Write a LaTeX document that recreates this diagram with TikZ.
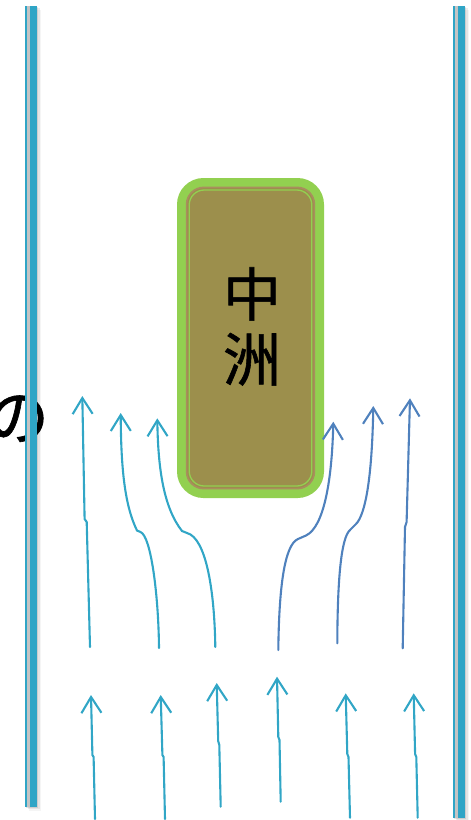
\documentclass[tikz,border=0pt]{standalone}
\usepackage{fontspec}
\newfontfamily\cjk{Noto Sans CJK JP}
\newfontfamily\cjkb[FakeBold=1]{Noto Sans CJK JP}
\usetikzlibrary{arrows.meta}
\definecolor{wallblue}{HTML}{2FA5C6}
\definecolor{wallgray}{HTML}{C4C4C4}
\definecolor{flowteal}{HTML}{31A6C6}
\definecolor{flowsteel}{HTML}{4F81BD}
\definecolor{islegreen}{HTML}{92D050}
\definecolor{isleolive}{HTML}{9C8F4C}
\definecolor{islebrown}{HTML}{A98E5E}
\tikzset{
  flow/.style={line width=2.1pt, line cap=round, -{Straight Barb[length=16pt,width=20pt]}},
  tealflow/.style={flow, draw=flowteal},
  steelflow/.style={flow, draw=flowsteel},
  bigchar/.style={font=\cjkb\fontsize{58}{65}\selectfont, inner sep=0pt, anchor=base},
}
\begin{document}
\begin{tikzpicture}[x=1pt,y=-1pt]
\useasboundingbox (0,0) rectangle (471,820);
% "の" cut by left edge
\node[bigchar, font=\cjkb\fontsize{62}{70}\selectfont] (no) at (18,440) {の};
% walls with faint shadow
\foreach \o/\a in {1/0.10,2.5/0.07,4/0.04}{
  \fill[black, opacity=\a] (25.3+\o,5.7+\o) rectangle (37.3+\o,806.7+\o);
  \fill[black, opacity=\a] (453+\o,5.7+\o) rectangle (465+\o,818.3+\o);
}
\fill[wallgray] (25.3,5.7) rectangle (37.3,806.7);
\fill[wallblue] (25.3,5.7) rectangle (27.3,806.7);
\fill[wallblue] (30,5.7) rectangle (37.3,806.7);
\fill[wallgray] (453,5.7) rectangle (465,818.3);
\fill[wallblue] (453,5.7) rectangle (455.3,818.3);
\fill[wallblue] (457.7,5.7) rectangle (465,818.3);
% island
\draw[islegreen, line width=9pt, fill=isleolive, rounded corners=22pt] (181.5,182.5) rectangle (319.5,493.5);
\draw[islebrown, line width=1.6pt, rounded corners=17pt] (186.6,187.4) rectangle (314.4,488.6);
\draw[islegreen, line width=1.3pt, rounded corners=15pt] (189.2,190) rectangle (311.8,486);
\node[bigchar] (c1) at (252,316) {中};
\node[bigchar] (c2) at (252,381) {洲};
% bottom row arrows
\coordinate (b1s) at (95,819);   \coordinate (b1t) at (91,695);
\coordinate (b2s) at (165,819);  \coordinate (b2t) at (160.7,695);
\coordinate (b3s) at (220.7,806.7); \coordinate (b3t) at (216.7,683);
\coordinate (b4s) at (280.7,801.7); \coordinate (b4t) at (277,676.7);
\coordinate (b5s) at (350,817.7); \coordinate (b5t) at (345.7,693.3);
\coordinate (b6s) at (417.7,817.7); \coordinate (b6t) at (413.7,693.3);
\draw[tealflow] (b1s) -- (93.6,757) -- (92.4,755) -- (b1t);
\draw[tealflow] (b2s) -- (163.6,757) -- (162.4,755) -- (b2t);
\draw[tealflow] (b3s) -- (219.3,745) -- (218.2,741) -- (b3t);
\draw[tealflow] (b4s) -- (279.5,740) -- (278.3,737) -- (b4t);
\draw[tealflow] (b5s) -- (348.5,757) -- (347.3,754) -- (b5t);
\draw[tealflow] (b6s) -- (416.3,757) -- (415.1,754) -- (b6t);
% upper left arrows
\coordinate (a1s) at (90,647);    \coordinate (a1t) at (82.3,396);
\coordinate (a2s) at (159,648);   \coordinate (a2t) at (120.7,413);
\coordinate (a3s) at (215.3,647); \coordinate (a3t) at (157.3,418.3);
\draw[tealflow] (a1s) -- (86.7,522) -- (84.6,519) -- (a1t);
\draw[tealflow] (a2s) .. controls (158.5,595) and (151,536) .. (140.5,532) -- (137,530.5)
  .. controls (125,506) and (121,470) .. (a2t);
\draw[tealflow] (a3s) .. controls (214.5,590) and (206,538) .. (187,533) -- (182,531)
  .. controls (164,508) and (158,470) .. (a3t);
% upper right arrows
\coordinate (c1s) at (278.3,650); \coordinate (c1t) at (333.3,421.7);
\coordinate (c2s) at (337.3,643.3); \coordinate (c2t) at (373.3,406);
\coordinate (c3s) at (402.7,648.3); \coordinate (c3t) at (410,398.3);
\draw[steelflow] (c1s) .. controls (279,590) and (284,545) .. (298,539) -- (306,535.5)
  .. controls (324,527) and (332,480) .. (c1t);
\draw[steelflow] (c2s) .. controls (337.5,580) and (341,538) .. (350,530) -- (356,524)
  .. controls (365,515) and (372,480) .. (c2t);
\draw[steelflow] (c3s) -- (405,527) -- (406.6,522) -- (c3t);
\end{tikzpicture}
\end{document}
